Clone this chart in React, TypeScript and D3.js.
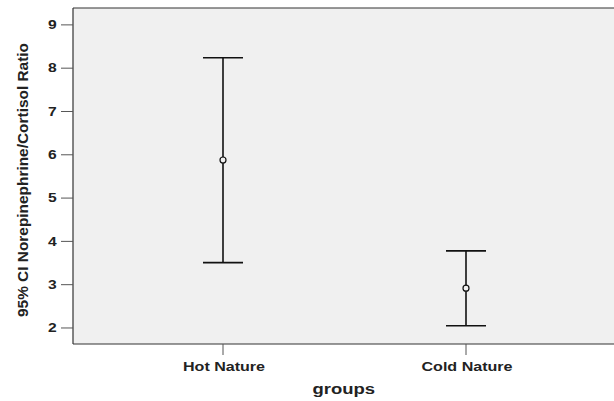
import React from "react";
import * as d3 from "d3";

const groups = ["Hot Nature", "Cold Nature"];
const means = [5.88, 2.92];
const lowers = [3.51, 2.05];
const uppers = [8.24, 3.78];
const yTicks = [2, 3, 4, 5, 6, 7, 8, 9];

export default function App() {
  const W = 614, H = 401;
  const left = 73, top = 8, right = 614, bottom = 344;
  const y = d3.scaleLinear().domain([1.63, 9.39]).range([bottom, top]);
  const x = d3.scalePoint<string>().domain(groups).range([223, 466]);
  const font = "'Liberation Sans', Arial, sans-serif";
  const labelLen = [82, 91];
  return (
    <svg width={W} height={H} style={{ position: "absolute", left: 0, top: 0 }}>
      <rect x={left} y={top} width={right - left} height={bottom - top} fill="#f0f0f0" />
      <line x1={left} x2={right} y1={top} y2={top} stroke="#333" strokeWidth={1.2} />
      <line x1={left} x2={left} y1={top} y2={bottom} stroke="#333" strokeWidth={1.2} />
      <line x1={left} x2={right} y1={bottom} y2={bottom} stroke="#333" strokeWidth={1.2} />
      {yTicks.map((t) => (
        <g key={t}>
          <line x1={61} x2={left} y1={y(t)} y2={y(t)} stroke="#555" strokeWidth={1} />
          <text
            x={48}
            y={y(t) + 4.3}
            textLength={8.7}
            lengthAdjust="spacingAndGlyphs"
            fontFamily={font}
            fontWeight="bold"
            fontSize={12}
            fill="#222"
          >
            {t}
          </text>
        </g>
      ))}
      {groups.map((g, i) => {
        const cx = x(g)!;
        return (
          <g key={g}>
            <line x1={cx} x2={cx} y1={bottom} y2={355} stroke="#555" strokeWidth={1} />
            <text
              x={cx + 1 - labelLen[i] / 2}
              y={371}
              textLength={labelLen[i]}
              lengthAdjust="spacingAndGlyphs"
              fontFamily={font}
              fontWeight="bold"
              fontSize={13}
              fill="#222"
            >
              {g}
            </text>
            <line x1={cx} x2={cx} y1={y(uppers[i])} y2={y(lowers[i])} stroke="#111" strokeWidth={1.6} />
            <line x1={cx - 20} x2={cx + 20} y1={y(uppers[i])} y2={y(uppers[i])} stroke="#111" strokeWidth={1.6} />
            <line x1={cx - 20} x2={cx + 20} y1={y(lowers[i])} y2={y(lowers[i])} stroke="#111" strokeWidth={1.6} />
            <circle cx={cx} cy={y(means[i])} r={3} fill="#f0f0f0" stroke="#111" strokeWidth={1.2} />
          </g>
        );
      })}
      <text
        x={312.5}
        y={394}
        textLength={62.5}
        lengthAdjust="spacingAndGlyphs"
        fontFamily={font}
        fontWeight="bold"
        fontSize={14}
        fill="#222"
      >
        groups
      </text>
      <text
        transform={`translate(27.5, 317) rotate(-90)`}
        textLength={274}
        lengthAdjust="spacingAndGlyphs"
        fontFamily={font}
        fontWeight="bold"
        fontSize={15}
        fill="#222"
      >
        95% CI Norepinephrine/Cortisol Ratio
      </text>
    </svg>
  );
}
